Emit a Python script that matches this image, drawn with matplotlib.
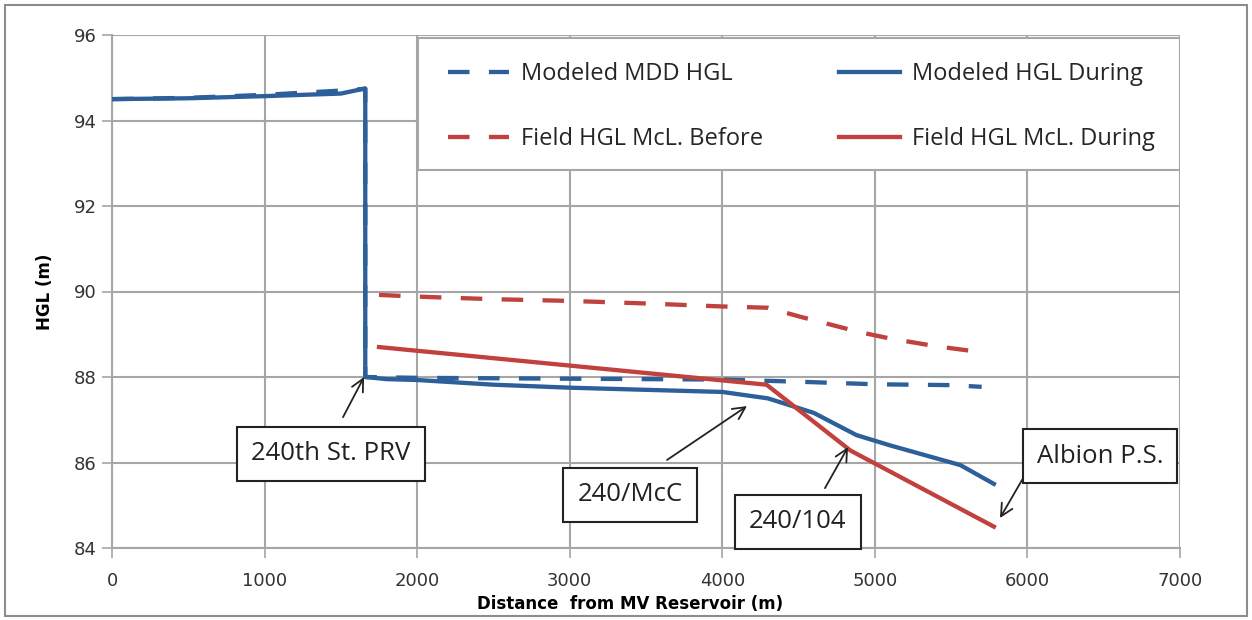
import matplotlib
matplotlib.use("Agg")
import matplotlib.pyplot as plt
from matplotlib.patches import Rectangle

# HGL profile data (distance from MV Reservoir, m)
dist_mdd = [0, 500, 1000, 1500, 1660, 1660, 2000, 3000, 4000, 4500, 5000, 5500, 5700]
hgl_mdd = [94.5, 94.53, 94.6, 94.7, 94.74, 88.0, 87.98, 87.96, 87.94, 87.89, 87.83, 87.81, 87.77]

dist_during = [0, 500, 1000, 1500, 1660, 1660, 1800, 2000, 2500, 3000, 3500, 4000, 4300,
               4600, 4880, 5100, 5560, 5780]
hgl_during = [94.5, 94.52, 94.57, 94.63, 94.75, 88.0, 87.95, 87.93, 87.82, 87.75, 87.7,
              87.65, 87.5, 87.16, 86.64, 86.4, 85.94, 85.5]

dist_field_before = [1750, 2000, 2500, 3000, 3500, 4000, 4300, 4500, 4900, 5100, 5400, 5720]
hgl_field_before = [89.92, 89.88, 89.82, 89.78, 89.72, 89.65, 89.62, 89.42, 89.05, 88.9,
                    88.72, 88.57]

dist_field_during = [1750, 4290, 4840, 5780]
hgl_field_during = [88.7, 87.82, 86.28, 84.5]

labels = ["Modeled MDD HGL", "Modeled HGL During",
          "Field HGL McL. Before", "Field HGL McL. During"]

# callouts: text, box centre, arrow tail, arrow head
callouts = [
    ("240th St. PRV", (1435, 86.2), (1514, 87.06), (1652, 88.0)),
    ("240/McC", (3395, 85.24), (3638, 86.06), (4162, 87.32)),
    ("240/104", (4496, 84.61), (4673, 85.4), (4824, 86.36)),
    ("Albion P.S.", (6476, 86.15), (5984, 85.71), (5820, 84.7)),
]

blue = "#2d5f9a"
red = "#c0413d"
grid_c = "#a6a6a6"

fig = plt.figure(figsize=(12.52, 6.2), dpi=100)
ax = fig.add_axes([112 / 1252, 1 - 548 / 620, 1068 / 1252, 513 / 620])

# outer chart border
fig.patches.append(Rectangle((5 / 1252, 4 / 620), 1242 / 1252, 611 / 620,
                             transform=fig.transFigure, fill=False,
                             edgecolor="#8c8c8c", lw=1.5))

lw = 3.1
dash = (5, 4.5)
l1, = ax.plot(dist_mdd, hgl_mdd, color=blue, lw=lw, ls=(0, dash),
              dash_capstyle="butt", zorder=5)
l2, = ax.plot(dist_during, hgl_during, color=blue, lw=lw, zorder=4,
              solid_joinstyle="round")
l3, = ax.plot(dist_field_before, hgl_field_before, color=red, lw=lw, ls=(0, dash),
              dash_capstyle="butt", zorder=5)
l4, = ax.plot(dist_field_during, hgl_field_during, color=red, lw=lw, zorder=6)

ax.set_xlim(0, 7000)
ax.set_ylim(84, 96)
ax.set_xticks(range(0, 7001, 1000))
ax.set_yticks(range(84, 97, 2))
ax.grid(True, color=grid_c, lw=1.5)
ax.set_axisbelow(True)
for s in ["top", "right"]:
    ax.spines[s].set_visible(False)
for s in ["left", "bottom"]:
    ax.spines[s].set_color(grid_c)
    ax.spines[s].set_linewidth(1.5)
ax.tick_params(axis="both", colors=grid_c, labelcolor="#333333", labelsize=13,
               width=1.2, length=7)
ax.tick_params(axis="x", pad=10)
ax.tick_params(axis="y", pad=4)

ax.set_ylabel("HGL (m)", fontsize=12, fontweight="bold", labelpad=14)
ax.set_xlabel("Distance  from MV Reservoir (m)", fontsize=12, fontweight="bold")
ax.xaxis.set_label_coords((630 - 112) / 1068, -0.092)

# legend box
ax.add_patch(Rectangle(((418 - 112) / 1068, (548 - 170) / 513), (1180 - 418) / 1068,
                       (170 - 38) / 513, transform=ax.transAxes, facecolor="white",
                       edgecolor=grid_c, lw=1.5, zorder=3))
leg = ax.legend([l1, l3, l2, l4], [labels[0], labels[2], labels[1], labels[3]],
                ncol=2, frameon=False,
                loc="upper left", bbox_to_anchor=((448 - 112) / 1068, (548 - 62) / 513),
                borderaxespad=0, borderpad=0, handlelength=2.6, handletextpad=0.5,
                columnspacing=3.2, labelspacing=1.75,
                prop={"family": "Open Sans", "size": 17})
leg.set_zorder(7)
for t in leg.get_texts():
    t.set_color("#262626")

for text, pos, tail, head in callouts:
    ax.annotate("", xy=head, xytext=tail,
                arrowprops=dict(arrowstyle="->", color="#222222", lw=1.3,
                                mutation_scale=22, shrinkA=0, shrinkB=0), zorder=8)
    ax.text(pos[0], pos[1], text, ha="center", va="center", fontsize=18.5,
            family="Open Sans", color="#222222", zorder=9,
            bbox=dict(boxstyle="square,pad=0.55", facecolor="white",
                      edgecolor="#222222", lw=1.5))

fig.savefig("out.png", dpi=100)
